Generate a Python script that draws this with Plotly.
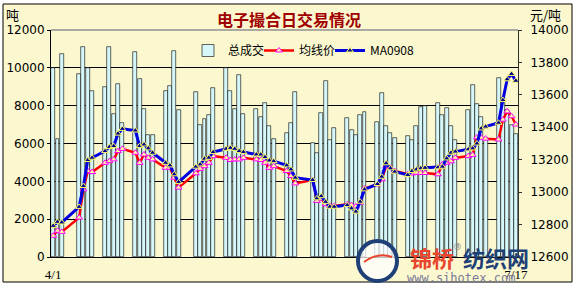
import plotly.graph_objects as go

dates = ["2009-04-01", "2009-04-02", "2009-04-03",
         "2009-04-07", "2009-04-08", "2009-04-09", "2009-04-10",
         "2009-04-13", "2009-04-14", "2009-04-15", "2009-04-16", "2009-04-17",
         "2009-04-20", "2009-04-21", "2009-04-22", "2009-04-23", "2009-04-24",
         "2009-04-27", "2009-04-28", "2009-04-29", "2009-04-30",
         "2009-05-04", "2009-05-05", "2009-05-06", "2009-05-07", "2009-05-08",
         "2009-05-11", "2009-05-12", "2009-05-13", "2009-05-14", "2009-05-15",
         "2009-05-18", "2009-05-19", "2009-05-20", "2009-05-21", "2009-05-22",
         "2009-05-25", "2009-05-26", "2009-05-27",
         "2009-05-31", "2009-06-01", "2009-06-02", "2009-06-03", "2009-06-04", "2009-06-05",
         "2009-06-08", "2009-06-09", "2009-06-10", "2009-06-11", "2009-06-12",
         "2009-06-15", "2009-06-16", "2009-06-17", "2009-06-18", "2009-06-19",
         "2009-06-22", "2009-06-23", "2009-06-24", "2009-06-25", "2009-06-26",
         "2009-06-29", "2009-06-30", "2009-07-01", "2009-07-02", "2009-07-03",
         "2009-07-06", "2009-07-07", "2009-07-08", "2009-07-09", "2009-07-10",
         "2009-07-13", "2009-07-14", "2009-07-15", "2009-07-16", "2009-07-17"]

volume = [9990, 6250, 10730,
          9690, 11100, 9990, 8800,
          8980, 11100, 7570, 9160, 7080,
          10840, 9420, 7830, 6460, 6460,
          8800, 9050, 10900, 7780,
          8700, 6990, 7290, 7520, 8930,
          9990, 8750, 7800, 9640, 7570,
          7840, 7400, 8140, 6900, 6250,
          6550, 7110, 8700,
          6020, 5490, 7610, 9320, 6190, 6810,
          7340, 6720, 6460, 7520, 7690,
          7130, 8670, 6900, 6550, 6300,
          6410, 6190, 6900, 7930, 7960,
          8140, 7520, 7870, 6900, 6190,
          7780, 9100, 8100, 7400, 6300,
          9460, 8400, 7780, 6990, 6500]

avg_price = [12731, 12762, 12755,
             12843, 13017, 13130, 13124,
             13181, 13191, 13202, 13253, 13267,
             13243, 13181, 13232, 13212, 13202,
             13150, 13150, 13089, 13028,
             13116, 13144, 13160, 13181, 13222,
             13212, 13198, 13202, 13202, 13212,
             13202, 13198, 13181, 13150, 13160,
             13130, 13099, 13054,
             13075, 12946, 12960, 12925, 12915, 12915,
             12925, 12920, 12912, 12935, 13022,
             13048, 13079, 13161, 13150, 13130,
             13110, 13115, 13120, 13118, 13118,
             13110, 13171, 13181, 13190, 13212,
             13222, 13230, 13338, 13335, 13330,
             13325, 13447, 13498, 13468, 13417]

ma0908 = [12792, 12817, 12813,
          12909, 13038, 13198, 13212,
          13253, 13279, 13284, 13361, 13390,
          13380, 13284, 13294, 13270, 13243,
          13181, 13165, 13110, 13062,
          13157, 13171, 13206, 13212, 13247,
          13267, 13273, 13267, 13253, 13247,
          13232, 13232, 13216, 13195, 13191,
          13165, 13140, 13089,
          13075, 12962, 12975, 12940, 12910, 12910,
          12920, 12900, 12880, 12941, 13017,
          13050, 13095, 13178, 13147, 13126,
          13106, 13130, 13140, 13147, 13150,
          13153, 13157, 13208, 13243, 13250,
          13264, 13270, 13300, 13393, 13404,
          13428, 13568, 13696, 13729, 13687]

x_ticks = ["2009-04-01", "2009-07-17"]
x_ticktext = ["4/1", "7/17"]

L, R, T, B = 51, 518, 30, 257
W, H = R - L, B - T


def xp(px):
    return (px - L) / W


def yp(py):
    return (B - py) / H


BG = "#FBF8CF"
CJK = "Noto Sans CJK SC"

fig = go.Figure()
fig.add_trace(go.Bar(
    x=dates, y=volume, name="总成交", yaxis="y",
    width=0.92 * 86400000,
    marker=dict(color="#D6F7FA", line=dict(color="#000000", width=0.6)),
))
fig.add_trace(go.Scatter(
    x=dates, y=avg_price, name="均线价", yaxis="y2", mode="lines+markers",
    line=dict(color="#FF0000", width=2.5),
    marker=dict(symbol="triangle-up", size=6, color="#FFFFA0",
                line=dict(color="#FF00FF", width=1)),
))
fig.add_trace(go.Scatter(
    x=dates, y=ma0908, name="MA0908", yaxis="y2", mode="lines+markers",
    line=dict(color="#0000E0", width=3),
    marker=dict(symbol="triangle-up", size=6, color="#000090",
                line=dict(color="#FFFF60", width=1)),
))
# empty legend slot so that the last legend label is not clipped
fig.add_trace(go.Scatter(
    x=[None], y=[None], name=" ", yaxis="y2", mode="lines",
    line=dict(color="rgba(0,0,0,0)"), hoverinfo="skip",
))

fig.update_layout(
    template="none",
    width=578, height=289,
    margin=dict(l=L, r=578 - R, t=T, b=289 - B, pad=0, autoexpand=False),
    paper_bgcolor="#FFFFFF",
    plot_bgcolor=BG,
    showlegend=True,
    bargap=0,
    font=dict(family="DejaVu Sans", size=12, color="#000000"),
    legend=dict(orientation="h", x=xp(188), y=yp(36), xanchor="left", yanchor="top",
                bgcolor="rgba(0,0,0,0)", borderwidth=0,
                font=dict(family=CJK, size=12, color="#000000"),
                entrywidth=26, entrywidthmode="pixels", itemwidth=30, tracegroupgap=0),
    xaxis=dict(type="date", range=["2009-03-31 12:00", "2009-07-17 12:00"],
               tickvals=x_ticks, ticktext=x_ticktext, automargin=False,
               ticks="outside", ticklen=5, tickcolor="rgba(0,0,0,0)",
               tickfont=dict(family="Liberation Serif", size=13),
               showgrid=False, showline=True, linecolor="#000000", linewidth=1,
               zeroline=False),
    yaxis=dict(range=[0, 12000], dtick=2000, tickformat="d", automargin=False,
               showgrid=True, gridcolor="#000000",
               gridwidth=1, showline=True, linecolor="#000000", linewidth=1,
               ticks="outside", ticklen=3, tickcolor="#000000",
               tickfont=dict(family="DejaVu Sans", size=12), zeroline=False),
    yaxis2=dict(range=[12600, 14000], dtick=200, tickformat="d", automargin=False,
                overlaying="y", side="right",
                showgrid=False, showline=True, linecolor="#303030", linewidth=1,
                ticks="outside", ticklen=3, tickcolor="#303030",
                ticklabelstandoff=6,
                tickfont=dict(family="DejaVu Sans", size=12), zeroline=False),
)

shapes = [
    dict(type="rect", xref="paper", yref="paper", x0=xp(3), x1=xp(572), y0=yp(282), y1=yp(4),
         line=dict(color="#000000", width=1), fillcolor=BG, layer="below"),
    dict(type="line", xref="paper", yref="paper", x0=0, x1=1, y0=1, y1=1,
         line=dict(color="#909090", width=1.5), layer="above"),
    dict(type="circle", xref="paper", yref="paper", x0=xp(358), x1=xp(397), y0=yp(281), y1=yp(241),
         line=dict(color="#1F3F77", width=4), fillcolor="rgba(255,255,255,0.75)", layer="above"),
    dict(type="path", xref="paper", yref="paper",
         path=f"M {xp(364)},{yp(262)} Q {xp(378)},{yp(252)} {xp(392)},{yp(257)}",
         line=dict(color="#E8452C", width=2), layer="above"),
]
fig.update_layout(shapes=shapes)

ann = [
    dict(text="<b>电子撮合日交易情况</b>", x=xp(289), y=yp(19), font=dict(family=CJK, size=16, color="#A00000"),
         xanchor="center", yanchor="middle"),
    dict(text="吨", x=xp(12), y=yp(15), font=dict(family=CJK, size=13, color="#000000"),
         xanchor="center", yanchor="middle"),
    dict(text="元/吨", x=xp(545), y=yp(15), font=dict(family=CJK, size=13, color="#000000"),
         xanchor="center", yanchor="middle"),
    dict(text="<b>锦桥</b>", x=xp(408), y=yp(257), font=dict(family=CJK, size=22, color="#E8452C"),
         xanchor="left", yanchor="middle"),
    dict(text="®", x=xp(457), y=yp(247), font=dict(family="DejaVu Sans", size=9, color="#808080"),
         xanchor="center", yanchor="middle"),
    dict(text="<b>纺织网</b>", x=xp(461), y=yp(257), font=dict(family=CJK, size=22, color="#1F3F77"),
         xanchor="left", yanchor="middle"),
    dict(text="www.sihotex.com", x=xp(405), y=yp(278), font=dict(family="DejaVu Sans Mono", size=12, color="#7A7A9A"),
         xanchor="left", yanchor="middle"),
]
for a in ann:
    a.update(xref="paper", yref="paper", showarrow=False)
fig.update_layout(annotations=ann)

fig.write_html("out.html", config={"displayModeBar": False},
               post_script="document.body.style.margin='0px';document.body.style.overflow='hidden';")
